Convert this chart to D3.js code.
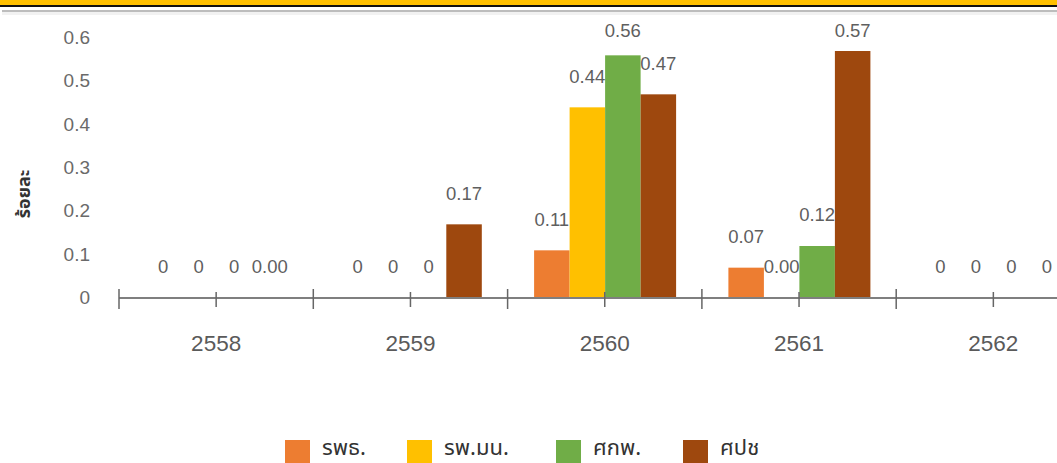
<!DOCTYPE html>
<html>
<head>
<meta charset="utf-8">
<script src="https://cdn.jsdelivr.net/npm/d3@7"></script>
<style>
  html, body { margin: 0; padding: 0; background: #fff; }
  svg { display: block; }
</style>
</head>
<body>
<svg id="chart" width="1057" height="463"></svg>
<script>
// Years (Buddhist era) on the category axis
const years = ["2558", "2559", "2560", "2561", "2562"];

// Series names and colours
const seriesNames = ["รพธ.", "รพ.มน.", "ศกพ.", "ศปช"];
const seriesColors = ["#ED7D31", "#FFC000", "#70AD47", "#9E480E"];

// Percentage values per series, one per year
const rphValues  = [0, 0, 0.11, 0.07, 0];
const rpmnValues = [0, 0, 0.44, 0.00, 0];
const skpValues  = [0, 0, 0.56, 0.12, 0];
const spchValues = [0.00, 0.17, 0.47, 0.57, 0];

// Value labels as printed above each bar
const rphLabels  = ["0", "0", "0.11", "0.07", "0"];
const rpmnLabels = ["0", "0", "0.44", "0.00", "0"];
const skpLabels  = ["0", "0", "0.56", "0.12", "0"];
const spchLabels = ["0.00", "0.17", "0.47", "0.57", "0"];

// Y-axis ticks
const yTicks = [0, 0.1, 0.2, 0.3, 0.4, 0.5, 0.6];
const yTitle = "ร้อยละ";

const seriesValues = [rphValues, rpmnValues, skpValues, spchValues];
const seriesLabels = [rphLabels, rpmnLabels, skpLabels, spchLabels];

const svg = d3.select("#chart");
const numFont = "'Liberation Sans', Arial, sans-serif";
const thaiFont = "'Noto Sans Thai', 'Leelawadee UI', Tahoma, 'DejaVu Sans', sans-serif";

// Header band
svg.append("rect").attr("x", 0).attr("y", 0).attr("width", 1057).attr("height", 5).attr("fill", "#FFC000");
svg.append("rect").attr("x", 0).attr("y", 5).attr("width", 1057).attr("height", 2).attr("fill", "#111");
svg.append("rect").attr("x", 2).attr("y", 10).attr("width", 1055).attr("height", 2).attr("fill", "#bdbdbd");
svg.append("rect").attr("x", 2).attr("y", 12).attr("width", 1055).attr("height", 3).attr("fill", "#f2f2f2");

// Scales
const x0 = d3.scaleBand().domain(years).range([119, 119 + 194.3 * years.length]).padding(0);
const x1 = d3.scaleBand().domain(seriesNames).range([26.5, 168.5]).padding(0);
const y = d3.scaleLinear().domain([0, 0.6]).range([298, 38]);
const color = d3.scaleOrdinal().domain(seriesNames).range(seriesColors);

// Y tick labels (no axis line)
const yAxis = d3.axisLeft(y).tickValues(yTicks).tickSize(0).tickPadding(0)
  .tickFormat(d => d === 0 ? "0" : d3.format(".1f")(d));
const yg = svg.append("g").attr("transform", "translate(90,-1)").call(yAxis);
yg.select(".domain").remove();
yg.selectAll("text")
  .attr("font-family", numFont).attr("font-size", 19).attr("fill", "#6a6a6a")
  .attr("dy", "0.35em");

// Y title
svg.append("text")
  .attr("transform", "translate(30,194) rotate(-90)")
  .attr("text-anchor", "middle")
  .attr("font-family", thaiFont).attr("font-size", 18).attr("font-weight", "bold")
  .attr("fill", "#333")
  .text(yTitle);

// Bars
const groups = svg.append("g").selectAll("g")
  .data(years.map((yr, i) => ({ yr, i })))
  .join("g")
  .attr("transform", d => `translate(${x0(d.yr)},0)`);

groups.selectAll("rect")
  .data(d => seriesNames.map((s, k) => ({ s, v: seriesValues[k][d.i] })))
  .join("rect")
  .attr("x", d => x1(d.s))
  .attr("width", x1.bandwidth())
  .attr("y", d => y(d.v))
  .attr("height", d => y(0) - y(d.v))
  .attr("fill", d => color(d.s));

// Value labels (kept inside the plot's top edge)
groups.selectAll("text.val")
  .data(d => seriesNames.map((s, k) => ({ s, v: seriesValues[k][d.i], t: seriesLabels[k][d.i] })))
  .join("text")
  .attr("class", "val")
  .attr("x", d => x1(d.s) + x1.bandwidth() / 2)
  .attr("y", d => Math.max(31, y(d.v) - 31))
  .attr("dy", "0.35em")
  .attr("text-anchor", "middle")
  .attr("font-family", numFont).attr("font-size", 18.5).attr("fill", "#5f5f5f")
  .text(d => d.t);

// X axis: baseline, ticks at group centres and boundaries
const axisY = 298;
const xAxis = d3.axisBottom(x0).tickSize(0).tickPadding(0);
const xg = svg.append("g").attr("transform", `translate(0,${axisY})`).call(xAxis);
xg.select(".domain").remove();
xg.selectAll(".tick text")
  .attr("y", 45).attr("dy", "0.35em")
  .attr("font-family", numFont).attr("font-size", 22.5).attr("fill", "#5a5a5a");

svg.append("line")
  .attr("x1", x0.range()[0]).attr("x2", 1057)
  .attr("y1", axisY).attr("y2", axisY)
  .attr("stroke", "#7f7f7f").attr("stroke-width", 2);

const boundaries = years.map(yr => x0(yr)).concat([x0.range()[1]]);
svg.append("g").selectAll("line")
  .data(boundaries)
  .join("line")
  .attr("x1", d => d).attr("x2", d => d)
  .attr("y1", axisY - 9).attr("y2", axisY + 11)
  .attr("stroke", "#666").attr("stroke-width", 1.5);

svg.append("g").selectAll("line")
  .data(years)
  .join("line")
  .attr("x1", d => x0(d) + x0.bandwidth() / 2).attr("x2", d => x0(d) + x0.bandwidth() / 2)
  .attr("y1", axisY - 6).attr("y2", axisY + 9)
  .attr("stroke", "#666").attr("stroke-width", 1.5);

// Legend
const legendX = [285, 407, 556, 683];
const legend = svg.append("g").selectAll("g")
  .data(seriesNames)
  .join("g")
  .attr("transform", (d, i) => `translate(${legendX[i]},440)`);
legend.append("rect")
  .attr("width", 25).attr("height", 23)
  .attr("fill", d => color(d));
legend.append("text")
  .attr("x", 37).attr("y", 7).attr("dy", "0.35em")
  .attr("font-family", thaiFont).attr("font-size", 22).attr("fill", "#333")
  .text(d => d);
</script>
</body>
</html>
